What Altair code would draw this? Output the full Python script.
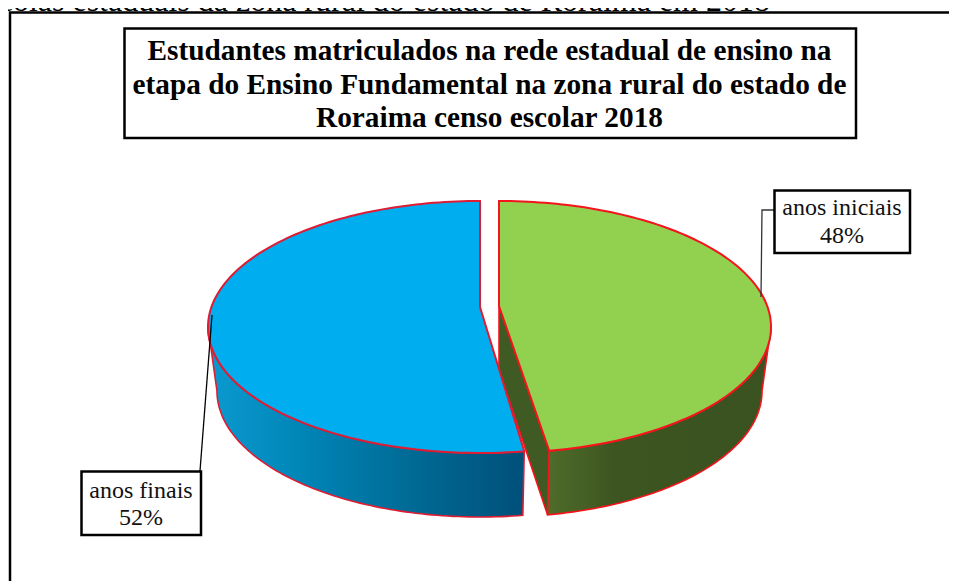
import numpy as np
import pandas as pd
import altair as alt

# ---- chart values ----
categories = ["anos iniciais", "anos finais"]
shares = [47.5, 52.2]          # sweep of each slice, percent of the circle
percent_labels = ["48%", "52%"]
title_lines = [
    "Estudantes matriculados na rede estadual de ensino na",
    "etapa do Ensino Fundamental na zona rural do estado de",
    "Roraima censo escolar 2018",
]
caption = "colas estaduais da zona rural do estado de Roraima em 2018"

# ---- geometry and styling ----
W, H = 941, 573
xs = alt.Scale(domain=[8, 8 + W], nice=False, zero=False)
ys = alt.Scale(domain=[8, 8 + H], nice=False, zero=False, reverse=True)
X = lambda f="x": alt.X(f"{f}:Q", scale=xs, axis=None)
Y = lambda f="y": alt.Y(f"{f}:Q", scale=ys, axis=None)

P = 1 / 6                # perspective strength
A = 268.2                # horizontal radius factor
B = 122.5                # vertical radius factor
DEPTH = 64               # height of the pie wall
LOWER = 0.967            # lower ring shrink
APEX_Y = 306
GREEN_X, BLUE_X = 499, 480
TANGENT = np.degrees(np.arccos(-P))


def ring(cx, theta, scale=1.0, dy=0.0):
    t = np.radians(theta)
    den = 1 + P * np.cos(t)
    return cx + scale * A * np.sin(t) / den, APEX_Y + dy - B * np.cos(t) / den


def poly(px, py):
    px, py = list(px), list(py)
    px.append(px[0])
    py.append(py[0])
    return pd.DataFrame({"x": px, "y": py, "o": range(len(px))})


def shape(df, fill, stroke, width=1.6):
    return alt.Chart(df).mark_line(
        fill=fill, stroke=stroke, strokeWidth=width, strokeJoin="miter", clip=False
    ).encode(x=X(), y=Y(), order="o:Q")


def gradient(stops):
    return alt.LinearGradient(
        gradient="linear", x1=0, x2=1, y1=0, y2=0,
        stops=[alt.GradientStop(offset=o, color=c) for o, c in stops],
    )


green_end = shares[0] * 3.6
blue_start = 360 - shares[1] * 3.6

# green pieces
t = np.linspace(0, green_end, 120)
gx, gy = ring(GREEN_X, t)
green_top = poly(np.r_[GREEN_X, gx], np.r_[APEX_Y, gy])
t = np.linspace(TANGENT, green_end, 80)
ax, ay = ring(GREEN_X, t)
bx, by = ring(GREEN_X, t[::-1], LOWER, DEPTH)
green_wall = poly(np.r_[ax, bx], np.r_[ay, by])
cx0, cy0 = ring(GREEN_X, green_end)
cx1, cy1 = ring(GREEN_X, green_end, LOWER, DEPTH)
green_cut = poly([GREEN_X, cx0, cx1, GREEN_X], [APEX_Y, cy0, cy1, APEX_Y + DEPTH])

# blue pieces
t = np.linspace(blue_start, 360, 130)
ux, uy = ring(BLUE_X, t)
blue_top = poly(np.r_[BLUE_X, ux], np.r_[APEX_Y + 1, uy])
t = np.linspace(blue_start, 360 - TANGENT, 90)
ax, ay = ring(BLUE_X, t)
bx, by = ring(BLUE_X, t[::-1], LOWER, DEPTH)
blue_wall = poly(np.r_[ax, bx], np.r_[ay, by])

GREEN_RED = "#f5141c"
BLUE_RED = "#de1c34"

pie = [
    shape(green_cut, "#3f5a22", GREEN_RED),
    shape(green_wall,
          gradient([(0, "#4f6c2a"), (0.3, "#3d5520"), (1, "#3a5220")]),
          GREEN_RED),
    shape(green_top, "#92D050", GREEN_RED, 2),
    shape(blue_wall,
          gradient([(0, "#0a9ad0"), (0.3, "#0085b6"), (0.7, "#006690"), (1, "#00507a")]),
          BLUE_RED),
    shape(blue_top, "#00AEEF", BLUE_RED, 2),
]

# boxes: outer frame, title box, label boxes
frame_box = pd.DataFrame({"x": [10], "x2": [970], "y": [12.5], "y2": [600]})
title_box = pd.DataFrame({"x": [124.5], "x2": [856], "y": [28.5], "y2": [138]})
label_box = pd.DataFrame({
    "x": [774.5, 81.5], "x2": [910, 201],
    "y": [190.5, 471.5], "y2": [253, 535],
})


def box(df):
    return alt.Chart(df).mark_rect(
        fill="white", stroke="black", strokeWidth=2.5
    ).encode(x=X(), x2="x2:Q", y=Y(), y2="y2:Q")


frame = box(frame_box)
tbox = box(title_box)
lbox = box(label_box)

# The reference cuts this line off at the top of the page; here the chart's
# own top edge (y=8) does the cutting, so its lowest few rows stay visible.
caption_text = alt.Chart(pd.DataFrame({
    "x": [770], "y": [11], "t": [caption]
})).mark_text(
    font="Liberation Serif", fontSize=32, align="right", baseline="alphabetic", color="black"
).encode(x=X(), y=Y(), text="t:N")

title_text = alt.Chart(pd.DataFrame({
    "x": [489.5, 489.5, 489.5], "y": [60, 93.5, 127], "t": title_lines
})).mark_text(
    font="Liberation Serif", fontSize=29.3, fontWeight="bold", align="center",
    baseline="alphabetic", color="black"
).encode(x=X(), y=Y(), text="t:N")

label_text = alt.Chart(pd.DataFrame({
    "x": [842, 842, 141, 141],
    "y": [215, 243, 498, 525],
    "t": [categories[0], percent_labels[0], categories[1], percent_labels[1]],
})).mark_text(
    font="Liberation Serif", fontSize=24, align="center", baseline="alphabetic", color="#111111"
).encode(x=X(), y=Y(), text="t:N")

leader_a = alt.Chart(pd.DataFrame({
    "x": [761, 762, 774], "y": [297, 210, 210], "o": [0, 1, 2]
})).mark_line(color="#333333", strokeWidth=1.3).encode(x=X(), y=Y(), order="o:Q")
leader_b = alt.Chart(pd.DataFrame({
    "x": [212, 200], "y": [315, 471], "o": [0, 1]
})).mark_line(color="black", strokeWidth=1.3).encode(x=X(), y=Y(), order="o:Q")

chart = alt.layer(
    frame, caption_text, tbox, title_text, *pie, leader_a, leader_b, lbox, label_text
).properties(
    width=W, height=H, padding=0,
    autosize=alt.AutoSizeParams(type="none"),
    background="white",
).configure_view(stroke=None)

chart.save("out.html", embed_options={"renderer": "svg", "actions": False})
